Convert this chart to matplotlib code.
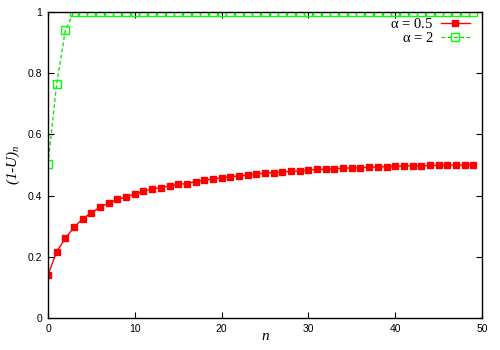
import numpy as np
import matplotlib
matplotlib.use('Agg')
import matplotlib.pyplot as plt

plt.rcParams['font.family'] = 'sans-serif'
plt.rcParams['font.sans-serif'] = ['Liberation Sans', 'DejaVu Sans']
plt.rcParams['font.serif'] = ['Liberation Serif', 'DejaVu Serif']
plt.rcParams['mathtext.fontset'] = 'custom'
plt.rcParams['mathtext.rm'] = 'Liberation Serif'
plt.rcParams['mathtext.it'] = 'Liberation Serif:italic'

n = np.arange(50)
u_half = [0.141, 0.217, 0.260, 0.297, 0.324, 0.344, 0.362, 0.376, 0.387, 0.396,
          0.405, 0.414, 0.421, 0.426, 0.431, 0.436, 0.439, 0.445, 0.450, 0.454,
          0.458, 0.461, 0.464, 0.467, 0.470, 0.473, 0.475, 0.477, 0.479, 0.480,
          0.483, 0.485, 0.486, 0.487, 0.489, 0.490, 0.491, 0.492, 0.493, 0.494,
          0.495, 0.496, 0.497, 0.497, 0.498, 0.498, 0.499, 0.499, 0.499, 0.500]
u_two = [0.503, 0.764, 0.939] + [1.0] * 47

fig = plt.figure(figsize=(5, 3.5), dpi=100)
ax = fig.add_axes([0.096, 0.091, 0.868, 0.876])

ax.plot(n, u_half, '-', color='#ff0000', lw=1, marker='s', ms=4.5,
        mfc='#ff0000', mec='#ff0000', label=r'$\mathrm{\alpha}$ = $\mathit{0.5}$')
ax.plot(n, u_two, '--', color='#00dd00', lw=0.9, dashes=(3, 2), marker='s', ms=5.5,
        mfc='none', mec='#00ff00', mew=1, label=r'$\mathrm{\alpha}$ = $\mathit{2}$')

ax.set_xlim(0, 50)
ax.set_ylim(0, 1)
ax.set_xticks([0, 10, 20, 30, 40, 50])
ax.set_yticks([0, 0.2, 0.4, 0.6, 0.8, 1])
ax.set_yticklabels(['0', '0.2', '0.4', '0.6', '0.8', '1'])
ax.tick_params(direction='in', top=True, right=True, length=4, width=0.8,
               labelsize=7.5, pad=4)
for s in ax.spines.values():
    s.set_linewidth(1)

ax.set_xlabel('n', family='serif', style='italic', fontsize=11, labelpad=-3)
ax.set_ylabel('(1-U)$_n$', family='serif', style='italic', fontsize=11, labelpad=4)

leg = ax.legend(loc='upper right', bbox_to_anchor=(0.982, 0.997), frameon=False,
                markerfirst=False, fontsize=10.5, handlelength=2.0,
                borderaxespad=0.0, borderpad=0.3, labelspacing=0.0,
                handletextpad=0.5)
for t in leg.get_texts():
    t.set_family('serif')

fig.savefig('out.png', dpi=100)
